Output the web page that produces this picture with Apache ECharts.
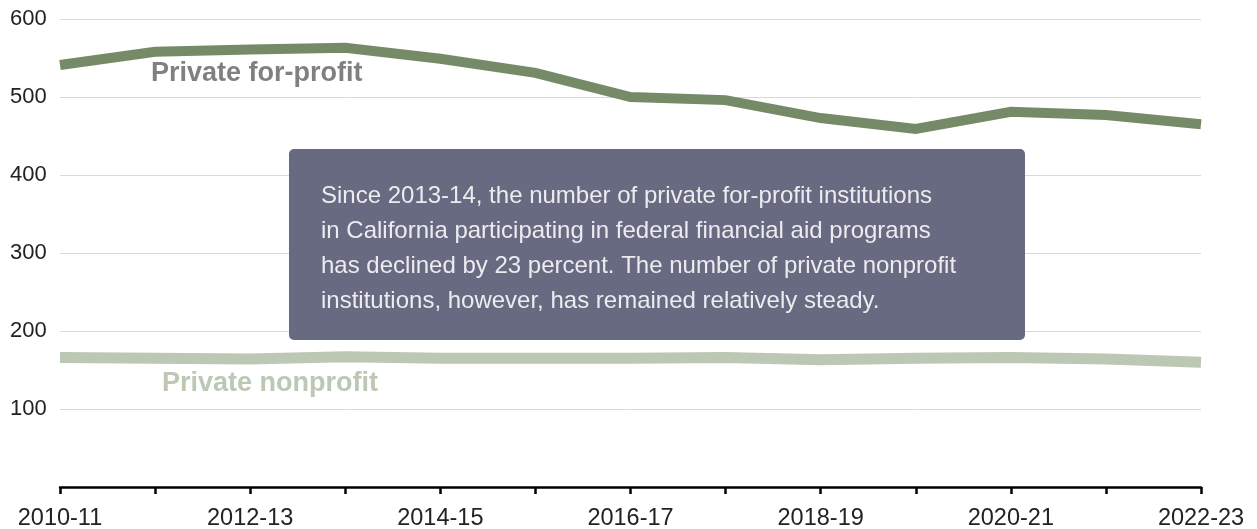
<!DOCTYPE html>
<html>
<head>
<meta charset="utf-8">
<script src="https://cdn.jsdelivr.net/npm/echarts@6/dist/echarts.min.js"></script>
<style>
  html, body { margin: 0; padding: 0; background: #fff; }
  #chart { width: 1257px; height: 529px; }
</style>
</head>
<body>
<div id="chart"></div>
<script>
const years = ['2010-11', '2011-12', '2012-13', '2013-14', '2014-15', '2015-16', '2016-17',
  '2017-18', '2018-19', '2019-20', '2020-21', '2021-22', '2022-23']
const forProfit = [541, 558, 561, 563, 549, 531, 500, 496, 473, 459, 481, 477, 465]
const nonprofit = [166, 165, 164, 167, 165, 165, 165, 166, 163, 165, 166, 164, 160]
const yTicks = [0, 100, 200, 300, 400, 500, 600]

const note = [
  'Since 2013-14, the number of private for-profit institutions',
  'in California participating in federal financial aid programs',
  'has declined by 23 percent. The number of private nonprofit',
  'institutions, however, has remained relatively steady.'
].join('\n')

const font = '"Liberation Sans", Arial, Helvetica, sans-serif'
const chart = echarts.init(document.getElementById('chart'))

chart.setOption({
  animation: false,
  textStyle: { fontFamily: font },
  grid: { left: 60, right: 56, top: 19, bottom: 42, outerBoundsMode: 'none' },
  xAxis: {
    type: 'category',
    data: years,
    boundaryGap: false,
    axisLine: { lineStyle: { color: '#000', width: 2.5 } },
    axisTick: { length: 7, lineStyle: { color: '#000', width: 2.5 }, interval: 0 },
    axisLabel: { interval: 1, color: '#222', fontSize: 23.5, margin: 20, fontFamily: font },
    splitLine: { show: false }
  },
  yAxis: {
    type: 'value',
    min: yTicks[0],
    max: yTicks[yTicks.length - 1],
    interval: 100,
    axisLine: { show: false },
    axisTick: { show: false },
    axisLabel: {
      color: '#222', fontSize: 22, align: 'left', margin: 50, fontFamily: font,
      formatter: (v) => (v === 0 ? '' : String(v))
    },
    splitLine: { lineStyle: { color: '#d9d9d9', width: 1 } }
  },
  series: [
    {
      name: 'Private nonprofit',
      type: 'line',
      data: nonprofit,
      symbol: 'none',
      lineStyle: { color: '#bcc7b4', width: 11, cap: 'butt', join: 'miter' },
      z: 2
    },
    {
      name: 'Private for-profit',
      type: 'line',
      data: forProfit,
      symbol: 'none',
      lineStyle: { color: '#758b68', width: 10, cap: 'butt', join: 'miter' },
      z: 3
    }
  ],
  graphic: [
    {
      type: 'text',
      left: 151, top: 60,
      style: { text: 'Private for-profit', fill: '#808080', font: 'bold 27px ' + font }
    },
    {
      type: 'text',
      left: 162, top: 370,
      style: { text: 'Private nonprofit', fill: '#bcc7b4', font: 'bold 27px ' + font }
    },
    {
      type: 'rect',
      shape: { x: 289, y: 149, width: 736, height: 191, r: 5 },
      style: { fill: '#676a80' },
      z: 10
    },
    {
      type: 'text',
      x: 321, y: 179,
      style: { text: note, fill: '#ececf0', font: '24px ' + font, lineHeight: 35 },
      z: 11
    }
  ]
})
</script>
</body>
</html>
